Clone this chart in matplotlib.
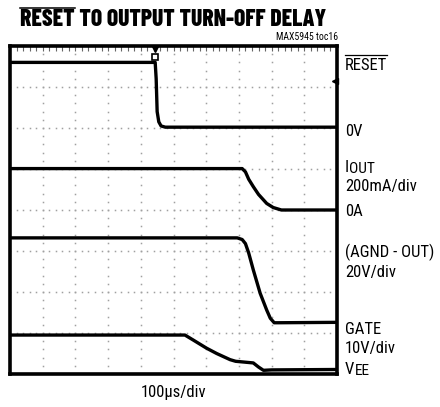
import numpy as np
import matplotlib
matplotlib.use("Agg")
import matplotlib.pyplot as plt

LABEL_FONT = ["Roboto Condensed", "Archivo Narrow", "Encode Sans Condensed", "DejaVu Sans"]
TITLE_FONT = ["Barlow Condensed", "Encode Sans Condensed", "DejaVu Sans"]
plt.rcParams["font.family"] = LABEL_FONT

# scope traces, in divisions (x: 0..10, y: 0..8 from bottom)
reset_x = [0, 4.44, 4.47, 4.50, 4.55, 4.62, 4.75, 10]
reset_y = [7.60, 7.60, 7.20, 6.40, 6.15, 6.05, 6.02, 6.02]

iout_x = [0, 7.10, 7.20, 7.30, 7.44, 7.60, 7.85, 8.05, 8.30, 10]
iout_y = [5.01, 5.01, 4.93, 4.75, 4.57, 4.38, 4.16, 4.06, 4.00, 4.00]

agnd_x = [0, 6.95, 7.10, 7.20, 7.30, 7.44, 7.65, 7.85, 7.96, 8.08, 8.20, 10]
agnd_y = [3.32, 3.32, 3.28, 3.18, 2.95, 2.54, 1.97, 1.56, 1.36, 1.25, 1.25, 1.26]

gate_x = [0, 5.35, 5.60, 6.01, 6.32, 6.73, 6.90, 7.44, 7.60, 7.75, 8.0, 10]
gate_y = [0.95, 0.95, 0.83, 0.63, 0.50, 0.35, 0.31, 0.27, 0.17, 0.09, 0.10, 0.11]

right_labels = ["0V", "200mA/div", "0A", "(AGND - OUT)", "20V/div", "GATE", "10V/div"]
right_label_rows = [131, 187, 211, 252, 272, 329, 348]   # pixel rows from top

W, H = 440, 407
fig = plt.figure(figsize=(W / 100, H / 100), dpi=100)
ax = fig.add_axes([10 / W, 33 / H, 327 / W, 328 / H])
ax.set_xlim(0, 10)
ax.set_ylim(0, 8)
ax.set_xticks([])
ax.set_yticks([])
for s in ax.spines.values():
    s.set_linewidth(2.6)

# dotted graticule
minor_y = np.arange(0, 8.001, 0.2)
minor_x = np.arange(0, 10.001, 0.2)
for i in range(1, 10):
    ax.plot(np.full_like(minor_y, i), minor_y, ls="none", marker="s", ms=1.1,
            mec="none", color="#a0a0a0")
for j in range(1, 8):
    ax.plot(minor_x, np.full_like(minor_x, j), ls="none", marker="s", ms=1.1,
            mec="none", color="#a0a0a0")
# top border minor ticks
ax.plot(minor_x, np.full_like(minor_x, 7.96), ls="none", marker="|", ms=4,
        mew=0.8, color="#666666")

for xs, ys in [(reset_x, reset_y), (iout_x, iout_y), (agnd_x, agnd_y), (gate_x, gate_y)]:
    ax.plot(xs, ys, color="black", lw=2.4, solid_joinstyle="round")

# trigger markers
ax.plot([4.42], [7.93], marker="v", ms=5, color="black", clip_on=False)
ax.plot([4.42], [7.72], marker="s", ms=4, mfc="white", mec="black", mew=1.2)
ax.plot([9.93], [7.15], marker="<", ms=5, color="black", clip_on=False)

fs = 12
lx = 345 / W
for txt, row in zip(right_labels, right_label_rows):
    fig.text(lx, (H - row) / H, txt, fontsize=fs, va="center", ha="left")

t_reset = fig.text(lx, (H - 65) / H, "RESET", fontsize=fs, va="center", ha="left")
t_i = fig.text(lx, (H - 167) / H, "I", fontsize=fs, va="center", ha="left")
t_v = fig.text(lx, (H - 369) / H, "V", fontsize=fs, va="center", ha="left")

fig.text(174 / W, (H - 392) / H, "100µs/div", fontsize=fs, ha="center", va="center")
fig.text(338 / W, (H - 37) / H, "MAX5945 toc16", fontsize=7, ha="right", va="center")
title_kw = dict(fontsize=17, fontweight=800, family=TITLE_FONT, ha="left", va="center")
fig.text(20 / W, (H - 20) / H, "RESET TO OUTPUT TURN-OFF DELAY", **title_kw)
t_part = fig.text(20 / W, (H - 20) / H, "RESET", alpha=0, **title_kw)

fig.canvas.draw()
r = fig.canvas.get_renderer()

def add_sub(t, sub):
    bb = t.get_window_extent(r)
    fig.text(bb.x1 / W, (bb.y0 - 1.5) / H, sub, fontsize=fs * 0.92, ha="left", va="bottom")

add_sub(t_i, "OUT")
add_sub(t_v, "EE")

def overline(bb, lw, gap):
    y = (bb.y1 + gap) / H
    fig.add_artist(plt.Line2D([bb.x0 / W, bb.x1 / W], [y, y], color="black", lw=lw))

overline(t_reset.get_window_extent(r), 0.9, 2.5)
overline(t_part.get_window_extent(r), 1.1, 1)

fig.savefig("out.png", dpi=100)
